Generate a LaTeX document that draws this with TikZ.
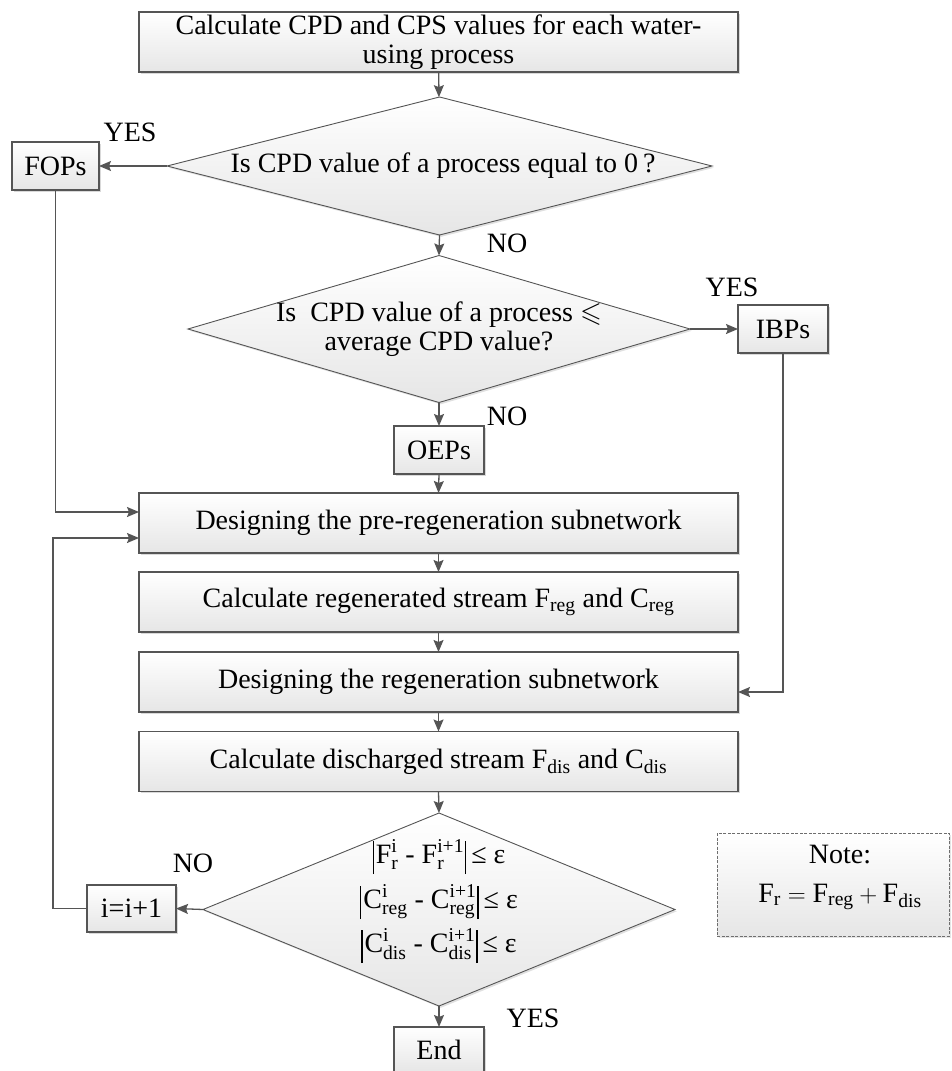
\documentclass[tikz,border=0pt]{standalone}
\usepackage{amsmath,amssymb}
\usepackage{fontspec}
\setmainfont{Liberation Serif}
\usetikzlibrary{shapes.geometric,arrows.meta,shadows}
\definecolor{ln}{HTML}{555555}
\definecolor{bot}{HTML}{E6E6E6}
\newcommand{\absbar}{\rule[-11pt]{1.2pt}{33pt}}
\begin{document}
\begin{tikzpicture}[x=1pt,y=-1pt,
  every node/.style={font=\fontsize{28}{29}\selectfont, inner sep=0pt, outer sep=0pt},
  box/.style={draw=ln, line width=1.1pt, top color=white, bottom color=bot, align=center,
    drop shadow={shadow xshift=1.8pt, shadow yshift=-1.8pt, fill=black, opacity=0.15}},
  dia/.style={diamond, draw=ln, line width=0.9pt, top color=white, bottom color=bot,
    drop shadow={shadow xshift=1.8pt, shadow yshift=-1.8pt, fill=black, opacity=0.12}},
  notebox/.style={draw=ln!85, line width=0.8pt, dash pattern=on 3pt off 1.5pt, top color=white, bottom color=bot,
    drop shadow={shadow xshift=1.5pt, shadow yshift=-1.5pt, fill=black, opacity=0.1}},
  arr/.style={draw=ln, line width=1.3pt, -{Stealth[length=12pt,width=10pt,inset=2pt]}},
  lbl/.style={}]
\useasboundingbox (0,0) rectangle (951,1071);

% boxes
\node[box, minimum width=599pt, minimum height=60pt] (top) at (438.5,42)
  {Calculate CPD and CPS values for each water-\\using process};
\node[dia, minimum width=545pt, minimum height=138pt] (d1) at (439.5,166) {};
\node (d1t) at (443,166) {Is CPD value of a process equal to 0\kern5pt?};
\node[box, minimum width=87pt, minimum height=48pt] (fops) at (55.5,166) {FOPs};
\node[dia, minimum width=502pt, minimum height=147pt] (d2) at (439,329) {};
\node[align=center] (d2t) at (439,329) {Is~ CPD value of a process $\leqslant$\\average CPD value?};
\node[box, minimum width=90pt, minimum height=48pt] (ibps) at (783,329) {IBPs};
\node[box, minimum width=90pt, minimum height=48pt] (oeps) at (439,450) {OEPs};
\node[box, minimum width=599pt, minimum height=60pt] (b1) at (438.5,523) {Designing the pre-regeneration subnetwork};
\node[box, minimum width=599pt, minimum height=60pt] (b2) at (438.5,602) {Calculate regenerated stream F\textsubscript{reg} and C\textsubscript{reg}};
\node[box, minimum width=599pt, minimum height=60pt] (b3) at (438.5,682) {Designing the regeneration subnetwork};
\node[box, minimum width=599pt, minimum height=60pt] (b4) at (438.5,761.5) {Calculate discharged stream F\textsubscript{dis} and C\textsubscript{dis}};
\node[dia, minimum width=472pt, minimum height=193pt] (d3) at (439,909.5) {};
\node[anchor=base] (d3a) at (439,863) {\absbar\kern2pt$\text{F}^{\text{i}}_{\text{r}}$ - $\text{F}^{\text{i+1}}_{\text{r}}$\kern1pt\absbar\kern5pt≤ ε};
\node[anchor=base] (d3b) at (439,908) {\absbar\kern2pt$\text{C}^{\text{i}}_{\text{reg}}$ - $\text{C}^{\text{i+1}}_{\text{reg}}$\kern1pt\absbar\kern5pt≤ ε};
\node[anchor=base] (d3c) at (439,952) {\absbar\kern2pt$\text{C}^{\text{i}}_{\text{dis}}$ - $\text{C}^{\text{i+1}}_{\text{dis}}$\kern1pt\absbar\kern5pt≤ ε};
\node[box, minimum width=89pt, minimum height=47pt] (inc) at (131.5,908.5) {i=i+1};
\node[box, minimum width=90pt, minimum height=46pt] (end) at (439,1050) {End};
\node[notebox, minimum width=232pt, minimum height=103pt] (note) at (833,884.5) {};
\node (notea) at (840,855) {Note:};
\node (noteb) at (840,897) {$\text{F}_{\text{r}} = \text{F}_{\text{reg}} + \text{F}_{\text{dis}}$};

% labels
\node (y1) at (130,132) {YES};
\node (n1) at (507,243) {NO};
\node (y2) at (732,287) {YES};
\node (n2) at (507,416) {NO};
\node (n3) at (193,863) {NO};
\node (y3) at (533,1018) {YES};

% coordinates
\coordinate (fin) at (139,512);
\coordinate (lin) at (139,538);
\coordinate (lp) at (53,538);
\coordinate (bin) at (738,692);

% connectors
\draw[arr] (top) -- (d1);
\draw[arr] (d1.west) -- (fops.east);
\draw[arr] (d1.south) -- (d2.north);
\draw[arr] (d2.east) -- (ibps.west);
\draw[arr] (d2.south) -- (oeps.north);
\draw[arr] (oeps.south) -- (b1.north);
\draw[arr] (fops.south) |- (fin);
\draw[arr] (b1) -- (b2);
\draw[arr] (b2) -- (b3);
\draw[arr] (b3) -- (b4);
\draw[arr] (b4.south) -- (d3.north);
\draw[arr] (ibps.south) |- (bin);
\draw[arr] (d3.west) -- (inc.east);
\draw[arr] (inc.west) -| (lp) -- (lin);
\draw[arr] (d3.south) -- (end.north);
\end{tikzpicture}
\end{document}
